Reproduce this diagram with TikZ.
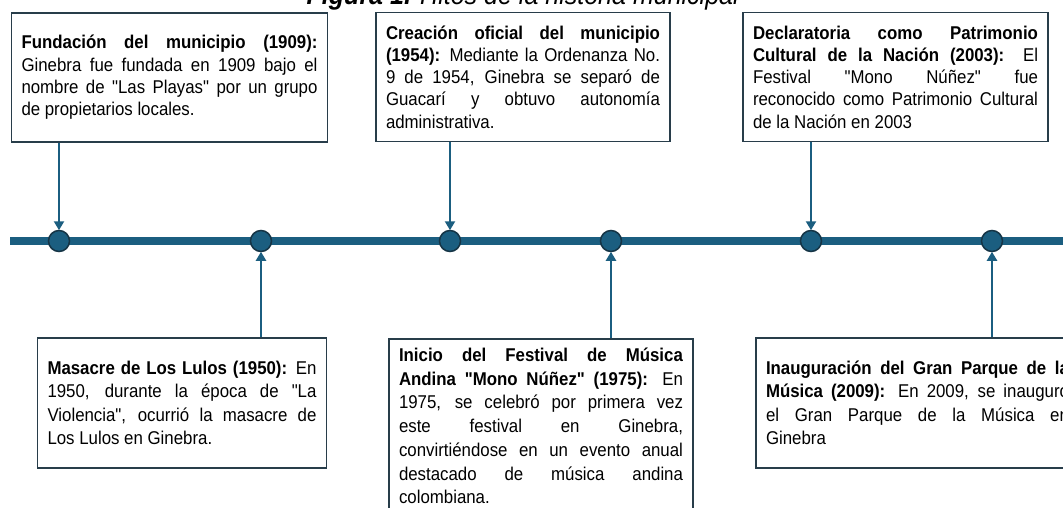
\documentclass[tikz,border=0pt]{standalone}
\usepackage{fontspec}
\setmainfont{Liberation Sans}[Ligatures=TeXOff]
\newfontfamily\bodyfont{Liberation Sans}[Ligatures=TeXOff, FakeStretch=0.91]
\usetikzlibrary{arrows.meta}
\definecolor{tlblue}{HTML}{1B5E80}
\definecolor{tldark}{HTML}{163546}
\definecolor{boxline}{HTML}{283D4A}
\begin{document}
\begin{tikzpicture}[x=1pt,y=-1pt,
  evbox/.style={draw=boxline, line width=1.9pt, fill=white, align=justify,
    inner xsep=10pt, inner ysep=4pt},
  topbox/.style={evbox, minimum height=129pt,
    font=\bodyfont\fontsize{18.5}{22.3}\selectfont},
  botbox/.style={evbox, minimum height=130pt,
    font=\bodyfont\fontsize{18.5}{23.4}\selectfont},
  dot/.style={circle, fill=tlblue, draw=tldark, line width=1.5pt,
    minimum size=21pt, inner sep=0pt},
  conn/.style={draw=tlblue, line width=2.8pt,
    -{Triangle[length=9pt,width=10pt]}, shorten >=-0.5pt},
  tline/.style={draw=tlblue, line width=8pt}
]
\useasboundingbox (0,0) rectangle (1063,508);
\clip (0,0) rectangle (1063,508);

% title (top cut off)
\node[anchor=base, inner sep=0pt, font=\bodyfont\fontsize{27.5}{30}\selectfont] (title) at (523,5)
  {\textbf{\textit{Figura 1.}} \textit{Hitos de la historia municipal}};

% timeline
\coordinate (tlstart) at (10,241);
\coordinate (tlend) at (1075,241);
\draw[tline] (tlstart) -- (tlend);

\node[dot] (c1) at (59,241) {};
\node[dot] (c2) at (261,241) {};
\node[dot] (c3) at (450,241) {};
\node[dot] (c4) at (611,241) {};
\node[dot] (c5) at (811,241) {};
\node[dot] (c6) at (992,241) {};

% top boxes
\node[topbox, text width=296pt] (b1) at (169.5,77.5)
  {\textbf{Fundación del municipio (1909):}\linebreak Ginebra fue fundada en 1909 bajo el\linebreak nombre de "Las Playas" por un grupo\linebreak de propietarios locales.};

\node[topbox, text width=274pt] (b2) at (523,77)
  {\textbf{Creación oficial del municipio}\linebreak \textbf{(1954):} Mediante la Ordenanza No.\linebreak 9 de 1954, Ginebra se separó de\linebreak Guacarí y obtuvo autonomía\linebreak administrativa.};

\node[topbox, text width=285pt] (b3) at (895.5,77)
  {\textbf{Declaratoria como Patrimonio}\linebreak \textbf{Cultural de la Nación (2003):} El\linebreak Festival "Mono Núñez" fue\linebreak reconocido como Patrimonio Cultural\linebreak de la Nación en 2003};

% bottom boxes
\node[botbox, text width=269pt] (b4) at (182,403)
  {\textbf{Masacre de Los Lulos (1950):} En\linebreak 1950, durante la época de "La\linebreak Violencia", ocurrió la masacre de\linebreak Los Lulos en Ginebra.};

\node[evbox, anchor=north, inner ysep=9pt, text width=284pt, text depth=220pt,
  font=\bodyfont\fontsize{18.5}{23.7}\selectfont] (b5) at (541,338)
  {\textbf{Inicio del Festival de Música}\linebreak \textbf{Andina "Mono Núñez" (1975):} En\linebreak 1975, se celebró por primera vez\linebreak este festival en Ginebra,\linebreak convirtiéndose en un evento anual\linebreak destacado de música andina\linebreak colombiana.};

\node[botbox, text width=303pt] (b6) at (917.5,403)
  {\textbf{Inauguración del Gran Parque de la}\linebreak \textbf{Música (2009):} En 2009, se inauguró\linebreak el Gran Parque de la Música en\linebreak Ginebra};

% connectors
\draw[conn] (b1.south -| c1) -- (c1.north);
\draw[conn] (b2.south -| c3) -- (c3.north);
\draw[conn] (b3.south -| c5) -- (c5.north);
\draw[conn] (b4.north -| c2) -- (c2.south);
\draw[conn] (b5.north -| c4) -- (c4.south);
\draw[conn] (b6.north -| c6) -- (c6.south);
\end{tikzpicture}
\end{document}
